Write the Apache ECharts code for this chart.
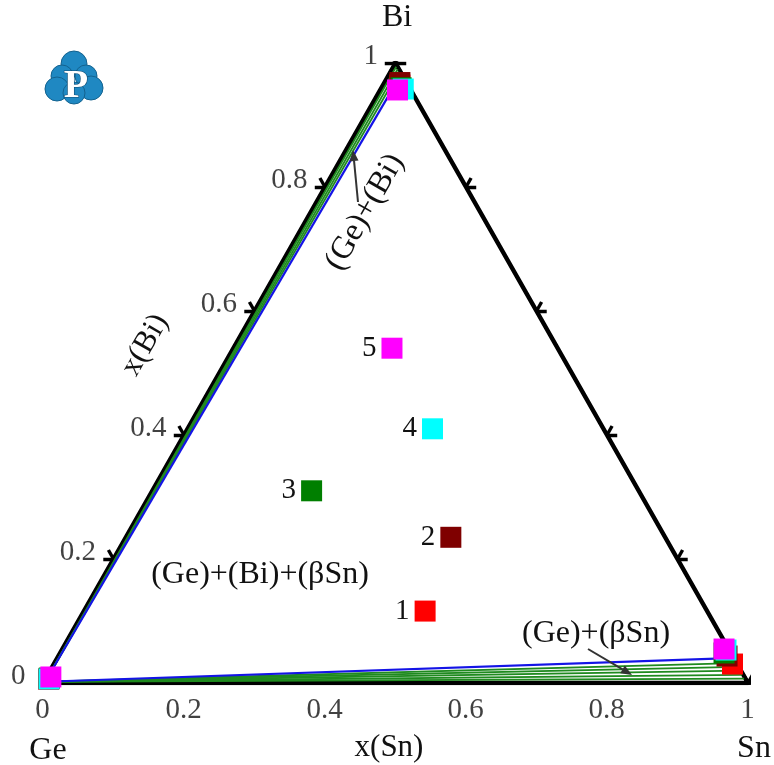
<!DOCTYPE html>
<html>
<head>
<meta charset="utf-8">
<script src="https://cdn.jsdelivr.net/npm/echarts@6/dist/echarts.min.js"></script>
<style>
  html, body { margin: 0; padding: 0; background: #ffffff; }
  #chart { width: 774px; height: 765px; }
</style>
</head>
<body>
<div id="chart"></div>
<script>
// Ge–Sn–Bi isothermal section. Compositions are [x(Sn), x(Bi)]; x(Ge) = 1 - x(Sn) - x(Bi).

// Alloys: overall composition and the three phases in equilibrium
const alloyNames   = ['1', '2', '3', '4', '5'];
const alloyOverall = [[0.484, 0.116], [0.461, 0.235], [0.226, 0.310], [0.3475, 0.410], [0.225, 0.540]];
const phaseGe      = [[0.005, 0.006], [0.005, 0.007], [0.005, 0.008], [0.0053, 0.0065], [0.0063, 0.0097]];
const phaseBi      = [[0.024, 0.9645], [0.022, 0.9685], [0.028, 0.960], [0.032, 0.958], [0.0246, 0.9565]];
const phaseSn      = [[0.9627, 0.0306], [0.9485, 0.0435], [0.9418, 0.0484], [0.9422, 0.0532], [0.9386, 0.0548]];

// Tie lines of the two-phase fields, all starting from the (Ge) solid solution
const tieStartGe   = [0.002, 0.002];
const tieEndsBi    = [[0.004, 0.994], [0.008, 0.990], [0.012, 0.986]];
const tieEndsSn    = [[0.991, 0.007], [0.985, 0.013], [0.978, 0.020], [0.972, 0.026], [0.966, 0.032]];
// Three-phase triangle (Ge)+(Bi)+(βSn) corners
const threePhaseBi = [0.017, 0.980];
const threePhaseSn = [0.955, 0.040];

// Axis ticks
const tickValues        = [0.2, 0.4, 0.6, 0.8];
const bottomTickValues  = [0, 0.2, 0.4, 0.6, 0.8, 1];
const bottomTickLabels  = ['0', '0.2', '0.4', '0.6', '0.8', '1'];
const leftTickValues    = [0, 0.2, 0.4, 0.6, 0.8, 1];
const leftTickLabels    = ['0', '0.2', '0.4', '0.6', '0.8', '1'];

// ---- styling ----
const alloyColors = ['#ff0000', '#7f0000', '#007f00', '#00ffff', '#ff00ff'];
const FONT = "'Liberation Serif', 'Times New Roman', serif";
const INK = '#111111';

// ternary -> cartesian (x axis 0..1 along Ge–Sn, y axis = x(Bi))
const tern = p => [p[0] + p[1] / 2, p[1]];
const seg = (a, b) => ({ coords: [tern(a), tern(b)] });

// Tick marks: two short arms pointing out of the triangle, parallel to the other sides
const L = 0.0145;
const tickSegs = [];
tickValues.forEach(t => {
  const b = [t, 0];                      // Ge–Sn side
  tickSegs.push(seg(b, [t, -L]), seg(b, [t + L, -L]));
  const l = [0, t];                      // Ge–Bi side
  tickSegs.push(seg(l, [-L, t]), seg(l, [-L, t + L]));
  const r = [1 - t, t];                  // Sn–Bi side
  tickSegs.push(seg(r, [1 - t + L, t]), seg(r, [1 - t, t + L]));
});
// corner asterisks
[[0, 0], [1, 0], [0, 1]].forEach(c => {
  const k = L * 1.05;
  tickSegs.push(seg([c[0] - k, c[1]], [c[0] + k, c[1]]));
  tickSegs.push(seg([c[0], c[1] - k], [c[0], c[1] + k]));
  tickSegs.push(seg([c[0] + k, c[1] - k], [c[0] - k, c[1] + k]));
});

const series = [];

// triangle sides
series.push({
  type: 'line', silent: true, symbol: 'none', z: 3,
  data: [[0, 0], [1, 0], [0, 1], [0, 0]].map(tern),
  lineStyle: { color: '#000', width: 4.5, cap: 'round', join: 'round' }
});
series.push({
  type: 'lines', coordinateSystem: 'cartesian2d', silent: true, z: 3,
  data: tickSegs,
  lineStyle: { color: '#000', width: 3.4, opacity: 1 }
});

// tie lines
series.push({
  type: 'lines', coordinateSystem: 'cartesian2d', silent: true, z: 4,
  data: tieEndsBi.concat(tieEndsSn).map(e => seg(tieStartGe, e)),
  lineStyle: { color: '#1f8a1f', width: 1.8, opacity: 1 }
});
series.push({
  type: 'lines', coordinateSystem: 'cartesian2d', silent: true, z: 5,
  data: [seg(tieStartGe, threePhaseBi), seg(tieStartGe, threePhaseSn)],
  lineStyle: { color: '#1414e6', width: 2.2, opacity: 1 }
});

// alloys and their phases
alloyNames.forEach((name, i) => {
  series.push({
    type: 'scatter', name: name, z: 10 + i,
    symbol: 'rect', symbolSize: 21,
    itemStyle: { color: alloyColors[i], opacity: 1 },
    label: {
      show: false, position: 'left', distance: 5,
      fontFamily: FONT, fontSize: 29, color: INK
    },
    data: [
      { value: tern(alloyOverall[i]), label: { show: true, formatter: name } },
      { value: tern(phaseGe[i]) },
      { value: tern(phaseBi[i]) },
      { value: tern(phaseSn[i]) }
    ]
  });
});

// tick labels
series.push({
  type: 'scatter', silent: true, symbolSize: 1, z: 6,
  itemStyle: { color: 'transparent' },
  label: {
    show: true, position: [0, 28], align: 'center', verticalAlign: 'middle',
    fontFamily: FONT, fontSize: 29, color: INK,
    formatter: p => bottomTickLabels[p.dataIndex]
  },
  data: bottomTickValues.map(v => tern([v, 0]))
});
series.push({
  type: 'scatter', silent: true, symbolSize: 1, z: 6,
  itemStyle: { color: 'transparent' },
  label: {
    show: true, position: [-17, -6], align: 'right', verticalAlign: 'middle',
    fontFamily: FONT, fontSize: 29, color: INK,
    formatter: p => leftTickLabels[p.dataIndex]
  },
  data: leftTickValues.map(v => tern([0, v]))
});

// ---- annotations ----
function arrow(x1, y1, x2, y2) {
  const dx = x2 - x1, dy = y2 - y1, len = Math.hypot(dx, dy);
  const ux = dx / len, uy = dy / len, hl = 11, hw = 4.5;
  const bx = x2 - ux * hl, by = y2 - uy * hl;
  return [
    { type: 'line', shape: { x1, y1, x2: bx, y2: by }, style: { stroke: '#333', lineWidth: 2 }, z: 20 },
    { type: 'polygon', shape: { points: [[x2, y2], [bx - uy * hw, by + ux * hw], [bx + uy * hw, by - ux * hw]] },
      style: { fill: '#333' }, z: 20 }
  ];
}
function text(t, x, y, size, rot) {
  return {
    type: 'text', x, y, rotation: rot || 0, z: 20,
    style: { text: t, font: size + 'px ' + FONT, fill: INK, align: 'center', verticalAlign: 'middle' }
  };
}
const ROT = Math.atan2(620, 352.5);

const logo = {
  type: 'group', z: 30,
  children: [
    [74, 64, 13], [62, 76, 11], [86, 76, 11], [57, 89, 12], [91, 88, 12], [74, 93, 11]
  ].map(c => ({
    type: 'circle', shape: { cx: c[0], cy: c[1], r: c[2] },
    style: { fill: '#1f88c2', stroke: '#13628f', lineWidth: 1 }
  })).concat([{
    type: 'text', x: 76, y: 87,
    style: { text: 'P', font: 'bold 40px ' + FONT, fill: '#ffffff', stroke: '#0e4d75', lineWidth: 1.2,
             align: 'center', verticalAlign: 'middle' }
  }])
};

const graphics = [
  logo,
  text('Bi', 397, 18, 32),
  text('Ge', 48, 751, 32),
  text('Sn', 754, 749, 32),
  text('x(Sn)', 389, 748, 31),
  text('x(Bi)', 145, 345, 31, ROT),
  text('(Ge)+(Bi)', 365, 212, 32, ROT),
  text('(Ge)+(Bi)+(βSn)', 260, 575, 32),
  text('(Ge)+(βSn)', 596, 634, 32)
].concat(arrow(358, 202, 353, 150), arrow(588, 649, 632, 675));

const chart = echarts.init(document.getElementById('chart'), null, { renderer: 'canvas' });
chart.setOption({
  animation: false,
  backgroundColor: '#ffffff',
  grid: { left: 43, right: 26, top: 63, bottom: 82 },
  xAxis: { type: 'value', min: 0, max: 1, show: false },
  yAxis: { type: 'value', min: 0, max: 1, show: false },
  series: series,
  graphic: graphics
});
</script>
</body>
</html>
